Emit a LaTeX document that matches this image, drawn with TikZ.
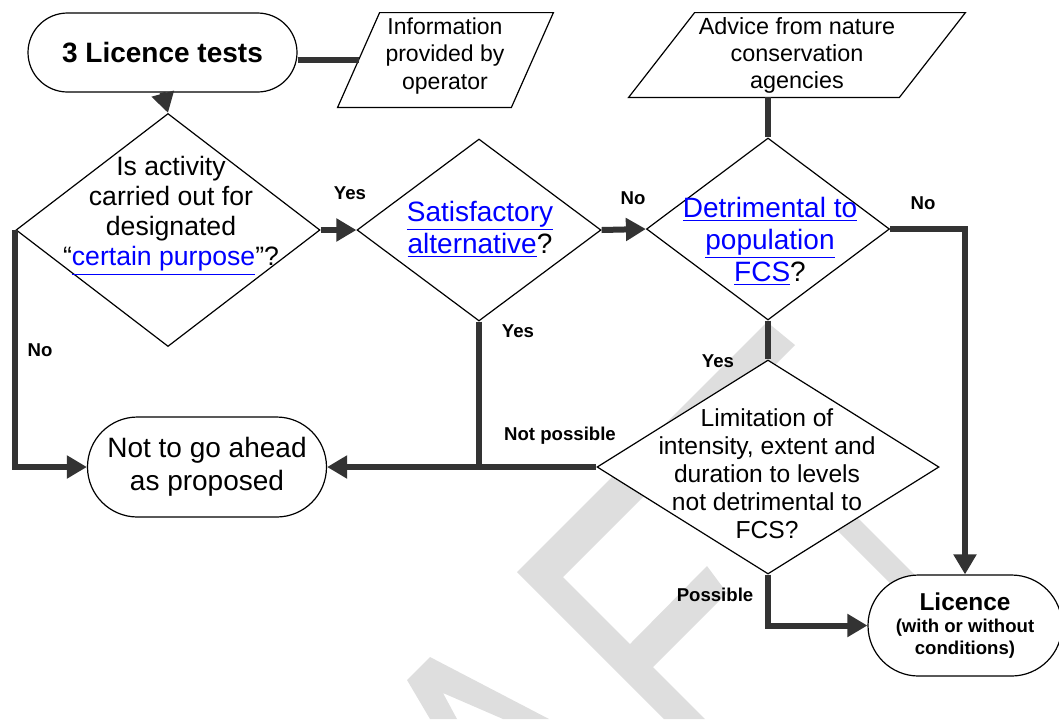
\documentclass[tikz,border=0pt]{standalone}
\usepackage{fontspec}
\setmainfont{Liberation Sans}
\usetikzlibrary{arrows.meta, shapes.geometric, shapes.misc}

\definecolor{linkblue}{RGB}{0,0,255}
\definecolor{flowgrey}{RGB}{51,51,51}
\definecolor{wmgrey}{RGB}{222,222,222}
\newcommand{\lnk}[1]{\textcolor{linkblue}{\underline{#1}}}

\begin{document}
\begin{tikzpicture}[x=0.5pt, y=-0.5pt,
	term/.style={rounded rectangle, draw, fill=white, line width=0.6pt, inner sep=0pt, align=center},
	decision/.style={diamond, draw, fill=white, line width=0.6pt, inner sep=0pt},
	datain/.style={inner sep=0pt},
	dataedge/.style={draw, fill=white, line width=0.6pt},
	txt/.style={align=center, inner sep=0pt},
	lbl/.style={font=\fontsize{9.3}{11}\selectfont\bfseries, inner sep=0pt},
	flow/.style={draw=flowgrey, line width=3pt},
	flowarrow/.style={flow, -{Triangle[length=10pt, width=11pt]}}]

\useasboundingbox (0, 0) rectangle (1059, 719);

% watermark
\fill[wmgrey] (407, 680) -- (430, 657) -- (549, 719) -- (503, 719) -- (443, 693) -- (457, 719) -- (430, 719) -- cycle;
\fill[wmgrey] (517, 572) -- (767, 322) -- (795, 345) -- (563, 577) -- (630, 644) -- (707, 566)
	-- (727, 593) -- (653, 667) -- (705, 719) -- (664, 719) -- cycle;
\fill[wmgrey] (815, 475) -- (930, 590) -- (905, 598) -- (790, 483) -- cycle;

% shapes
\node[term, minimum width=134.5pt, minimum height=39.5pt, font=\fontsize{14}{16}\selectfont\bfseries] (start) at (162.5, 52.5) {3 Licence tests};

% input boxes (parallelograms)
\node[datain, minimum width=107.5pt, minimum height=47pt] (info) at (445.5, 60) {};
\draw[dataedge] ([xshift=21pt]info.north west) -- (info.north east) -- ([xshift=-21pt]info.south east) -- (info.south west) -- cycle;
\coordinate (infoin) at ([xshift=10.5pt]info.west);
\node[txt, font=\fontsize{11.5}{13.75}\selectfont] (infotxt) at (445, 56) {Information\\provided by\\operator};

\node[datain, minimum width=168pt, minimum height=42pt] (advice) at (797, 55) {};
\draw[dataedge] ([xshift=33pt]advice.north west) -- (advice.north east) -- ([xshift=-33pt]advice.south east) -- (advice.south west) -- cycle;
\node[txt, font=\fontsize{11.7}{13.5}\selectfont] (advicetxt) at (797, 55) {Advice from nature\\conservation\\agencies};

\node[decision, minimum width=152pt, minimum height=116.5pt] (purpose) at (168, 230) {};
\node[txt, font=\fontsize{13.3}{15}\selectfont] (purposetxt) at (171, 216) {Is activity\\carried out for\\designated\\``\lnk{certain purpose}''?};

\node[decision, minimum width=122pt, minimum height=91pt] (altern) at (479, 230) {};
\node[txt, font=\fontsize{14}{16}\selectfont] (alterntxt) at (480, 229) {\lnk{Satisfactory}\\\lnk{alternative}?};

\node[decision, minimum width=121.5pt, minimum height=91pt] (detrim) at (768, 229) {};
\node[txt, font=\fontsize{14}{16}\selectfont] (detrimtxt) at (770, 241) {\lnk{Detrimental to}\\\lnk{population}\\\lnk{FCS}?};

\node[decision, minimum width=171pt, minimum height=107pt] (limit) at (768, 467) {};
\node[txt, font=\fontsize{12.3}{14}\selectfont] (limittxt) at (767, 474) {Limitation of\\intensity, extent and\\duration to levels\\not detrimental to\\FCS?};

\node[term, minimum width=119.5pt, minimum height=50pt, font=\fontsize{14}{16.5}\selectfont] (nogo) at (207, 467) {Not to go ahead\\as proposed};

\node[term, minimum width=97pt, minimum height=50.5pt, font=\fontsize{9.3}{11}\selectfont\bfseries] (licence) at (965, 625.5) {{\fontsize{12.2}{11}\selectfont Licence}\\(with or without\\conditions)};

% connectors
\draw[flow] (infoin -| start.east) -- (infoin);
\draw[flowarrow] (start.south) -- (purpose.north);
\draw[flowarrow] (purpose.east) -- (altern.west);
\draw[flowarrow] (altern.east) -- (detrim.west);
\draw[flow] (advice.south -| detrim.north) -- (detrim.north);
\draw[flowarrow] (detrim.east) -| (licence.north);
\draw[flow] (detrim.south) -- (limit.north);
\draw[flowarrow] (purpose.west) |- (nogo.west);
\draw[flow] (altern.south) -- (altern.south |- nogo.east);
\draw[flowarrow] (limit.west) -- (nogo.east);
\draw[flowarrow] (limit.south) |- (licence.west);

% labels
\node[lbl] (yes1) at (350, 193) {Yes};
\node[lbl] (no1) at (633, 198) {No};
\node[lbl] (no2) at (923, 203) {No};
\node[lbl] (no3) at (40, 350) {No};
\node[lbl] (yes2) at (518, 331) {Yes};
\node[lbl] (yes3) at (718, 361) {Yes};
\node[lbl] (notposs) at (560, 436) {Not possible};
\node[lbl] (poss) at (715, 595) {Possible};

\end{tikzpicture}
\end{document}
